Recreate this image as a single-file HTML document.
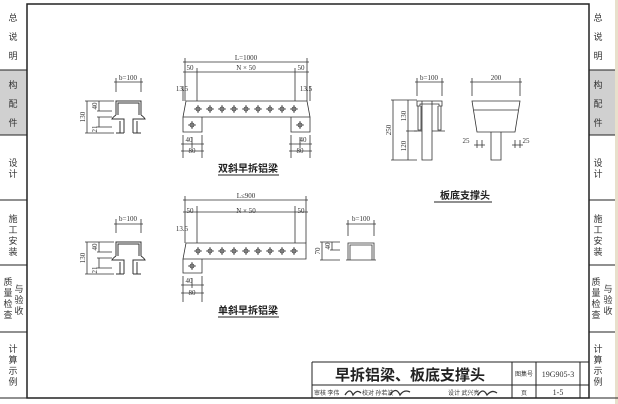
<!DOCTYPE html>
<html><head><meta charset="utf-8"><style>
body{margin:0;width:618px;height:404px;background:#fff;overflow:hidden;font-family:"Liberation Serif","Noto Serif CJK SC",serif}
svg{position:absolute;left:0;top:0}
</style></head><body>
<svg width="618" height="404" viewBox="0 0 618 404">
<defs>
<g id="prof" fill="none" stroke="#333" stroke-width="1">
<path d="M116 115 V101 H141 V115 M118 115 V103 H139 V115"/>
<path d="M116 115 Q113 117 112 119 H124 V121 M141 115 Q144 117 145 119 H133 V121"/>
<path d="M120 121 V133 M124 121 V133 M133 121 V133 M137 121 V133 M116 133 H124 M133 133 H141"/>
</g>
<g id="hole" stroke="#333" stroke-width="0.8" fill="none"><circle r="2"/><path d="M-4 0H4M0-4V4"/></g>
</defs>
<rect x="0" y="0" width="618" height="404" fill="#fff"/>
<rect x="615" y="0" width="3" height="404" fill="#e8e0cc"/>
<rect x="0" y="70" width="27" height="65" fill="#d0d0d0"/>
<rect x="589" y="70" width="26" height="65" fill="#d0d0d0"/>
<g stroke="#222" fill="none">
<path d="M27 4H589V398H27Z" stroke-width="1.5"/>
<path d="M0 70H27M0 135H27M0 200H27M0 265H27M0 332H27M589 70H615M589 135H615M589 200H615M589 265H615M589 332H615M0 398H618" stroke-width="1"/>
<path d="M312 362H589M312 362V398M312 385H589M512 362V398M536 362V398M580 362V398" stroke-width="1"/>
</g>
<g font-size="9" fill="#333" font-family="'Noto Sans CJK SC',sans-serif" text-anchor="middle">
<text x="13" y="21">总</text><text x="13" y="40">说</text><text x="13" y="59">明</text>
<text x="13" y="88">构</text><text x="13" y="107">配</text><text x="13" y="126">件</text>
<text x="13" y="166">设</text><text x="13" y="177">计</text>
<text x="13" y="222">施</text><text x="13" y="233">工</text><text x="13" y="244">安</text><text x="13" y="255">装</text>
<text x="8" y="285">质</text><text x="8" y="296">量</text><text x="8" y="307">检</text><text x="8" y="318">查</text>
<text x="19" y="292">与</text><text x="19" y="303">验</text><text x="19" y="314">收</text>
<text x="13" y="352">计</text><text x="13" y="363">算</text><text x="13" y="374">示</text><text x="13" y="385">例</text>
<text x="598" y="21">总</text><text x="598" y="40">说</text><text x="598" y="59">明</text>
<text x="598" y="88">构</text><text x="598" y="107">配</text><text x="598" y="126">件</text>
<text x="598" y="166">设</text><text x="598" y="177">计</text>
<text x="598" y="222">施</text><text x="598" y="233">工</text><text x="598" y="244">安</text><text x="598" y="255">装</text>
<text x="596" y="285">质</text><text x="596" y="296">量</text><text x="596" y="307">检</text><text x="596" y="318">查</text>
<text x="608" y="292">与</text><text x="608" y="303">验</text><text x="608" y="314">收</text>
<text x="598" y="352">计</text><text x="598" y="363">算</text><text x="598" y="374">示</text><text x="598" y="385">例</text>
</g>
<text x="410" y="380" font-size="15" font-weight="bold" fill="#222" text-anchor="middle" font-family="'Noto Sans CJK SC',sans-serif">早拆铝梁、板底支撑头</text>
<g font-size="6" fill="#333" font-family="'Noto Sans CJK SC',sans-serif">
<text x="524" y="376" text-anchor="middle">图集号</text><text x="558" y="377" text-anchor="middle" font-family="'Liberation Serif',serif" font-size="8">19G905-3</text>
<text x="524" y="395" text-anchor="middle">页</text><text x="558" y="395" text-anchor="middle" font-family="'Liberation Serif',serif" font-size="8">1-5</text>
<text x="314" y="395">审核 李伟</text><text x="362" y="395">校对 孙若波</text><text x="448" y="395">设计 武兴亮</text>
</g>
<g stroke="#333" fill="none" stroke-width="1.3"><path d="M345 395q5-8 8 0q4-6 8-2"/><path d="M390 395q6-9 10 0q4-6 10-3"/><path d="M478 395q5-8 9 0q5-6 10-2"/></g>

<!-- drawings -->
<g stroke="#333" fill="none" stroke-width="0.8">
<!-- profile 1 -->
<use href="#prof"/>
<path d="M116 78V92M141 78V92M114 82H143M87 101V133M85 101H114M85 133H114M99 101V111M99 117V127M97 111H112M97 117H112M97 127H112"/>
<!-- top beam -->
<path d="M186 101H307L310 117H183Z M183 117H202V132H183Z M291 117H310V132H291Z"/>
<path d="M185 58V101M307 58V101M183 62H309M197 68V101M295 68V101M183 72H309M183 86V101M310 86V101"/>
<path d="M183 135V158M202 135V158M192 137V148M291 135V158M310 135V158M300 137V148M181 144H204M289 144H312M181 151H204M289 151H312"/>
<!-- second beam -->
<path d="M186 243H306V259H183Z M183 259H202V273H183Z"/>
<path d="M185 196V243M306 196V243M183 200H308M197 206V243M295 206V243M183 212H308"/>
<path d="M183 276V302M202 276V302M192 278V288M181 285H204M181 293H204"/>
<!-- profile 2 -->
<use href="#prof" transform="translate(0,141)"/>
<path d="M116 219V233M141 219V233M114 224H143M87 242V274M85 242H114M85 274H114M99 242V252M99 258V268M97 252H112M97 258H112M97 268H112"/>
<!-- small profile -->
<path d="M348 260V243H374V260M350 260V245H372V260M346 260H376M348 220V236M374 220V236M346 224H376M322 242V260M320 242H340M320 260H340M332 242V250M330 250H340"/>
<!-- support head -->
<path d="M417 101H442V106H439V104H420V106H417Z M418 106V130H421V106 M438 106V130H441V106 M422 101V160H432V101 M414 131H422M432 131H445"/>
<path d="M417 78V96M442 78V96M415 82H444M393 100V160M391 100H417M391 160H417M408 100V160M406 131H417"/>
<path d="M472 101H520L515 132H477Z M474 110H518 M491 132V160H501V132 M472 78V96M520 78V96M470 82H522M477 140V148M482 140V148M515 140V148M520 140V148M474 145H485M512 145H523"/>
</g>
<g fill="#fff"><g id="holes1">
<use href="#hole" x="198" y="109"/><use href="#hole" x="210" y="109"/><use href="#hole" x="222" y="109"/><use href="#hole" x="234" y="109"/><use href="#hole" x="246" y="109"/><use href="#hole" x="258" y="109"/><use href="#hole" x="270" y="109"/><use href="#hole" x="282" y="109"/><use href="#hole" x="294" y="109"/>
</g><use href="#holes1" y="142"/>
<use href="#hole" x="192" y="125"/><use href="#hole" x="300" y="125"/><use href="#hole" x="192" y="266"/></g>
<g font-size="7" fill="#333" text-anchor="middle">
<text x="128" y="80">b=100</text><text x="246" y="60">L=1000</text><text x="190" y="70">50</text><text x="246" y="70">N × 50</text><text x="301" y="70">50</text>
<text x="182" y="91">13.5</text><text x="306" y="91">13.5</text>
<text x="189" y="142">40</text><text x="192" y="153">80</text><text x="303" y="142">40</text><text x="300" y="153">80</text>
<text x="246" y="198">L≤900</text><text x="190" y="213">50</text><text x="246" y="213">N × 50</text><text x="301" y="213">50</text>
<text x="182" y="231">13.5</text><text x="189" y="283">40</text><text x="192" y="295">80</text>
<text x="128" y="221">b=100</text><text x="361" y="221">b=100</text><text x="429" y="80">b=100</text><text x="496" y="80">200</text>
<text x="466" y="143">25</text><text x="526" y="143">25</text>
<text transform="translate(85,117) rotate(-90)">130</text><text transform="translate(97,106) rotate(-90)">40</text><text transform="translate(97,129) rotate(-90)">21</text>
<text transform="translate(85,258) rotate(-90)">130</text><text transform="translate(97,247) rotate(-90)">40</text><text transform="translate(97,270) rotate(-90)">21</text>
<text transform="translate(320,251) rotate(-90)">70</text><text transform="translate(330,246) rotate(-90)">40</text>
<text transform="translate(391,130) rotate(-90)">250</text><text transform="translate(406,116) rotate(-90)">130</text><text transform="translate(406,146) rotate(-90)">120</text>
</g>
<g font-size="10" font-weight="bold" fill="#222" text-anchor="middle" font-family="'Noto Sans CJK SC',sans-serif">
<text x="248" y="172">双斜早拆铝梁</text><text x="248" y="314">单斜早拆铝梁</text><text x="465" y="199">板底支撑头</text>
</g>
<path d="M218 175H279M218 317H279M434 202H492" stroke="#222" stroke-width="1"/>
</svg>
</body></html>
